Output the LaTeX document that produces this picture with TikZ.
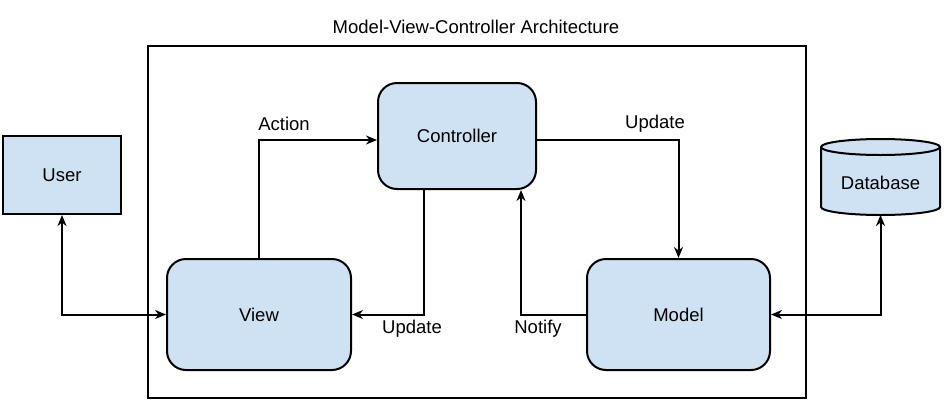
\documentclass[tikz,border=0pt]{standalone}
\usepackage{fontspec}
\setmainfont{Liberation Sans}
\usetikzlibrary{arrows.meta}
\definecolor{boxfill}{HTML}{CFE2F3}
\begin{document}
\begin{tikzpicture}[x=1pt,y=-1pt, font=\fontsize{18.5}{22}\selectfont,
  box/.style={draw, line width=2pt, fill=boxfill, inner sep=0pt},
  rbox/.style={box, rounded corners=19pt},
  tip/.tip={Stealth[length=11pt,width=9pt,inset=3.5pt]},
  conn/.style={line width=2pt, -tip},
  dconn/.style={line width=2pt, tip-tip},
  lbl/.style={inner sep=0pt}]
\useasboundingbox (0,0) rectangle (945,418);
\node[draw, line width=2pt, minimum width=658pt, minimum height=352pt, inner sep=0pt] (frame) at (477,222) {};
\node[lbl] (title) at (476,27) {Model-View-Controller Architecture};
\node[rbox, minimum width=158pt, minimum height=106pt] (ctrl) at (457,136) {Controller};
\node[rbox, minimum width=184pt, minimum height=111pt] (view) at (259,314.5) {View};
\node[rbox, minimum width=183pt, minimum height=111pt] (model) at (678.5,314.5) {Model};
\node[box, minimum width=118pt, minimum height=78pt] (user) at (62,175) {User};
% database cylinder
\path[box] (821,147) -- (821,207) arc[start angle=180, end angle=360, x radius=59.5pt, y radius=8pt] -- (940,147) arc[start angle=0, end angle=180, x radius=59.5pt, y radius=8pt] -- cycle;
\draw[line width=2pt] (821,147) arc[start angle=180, end angle=360, x radius=59.5pt, y radius=8pt];
\node[lbl] (db) at (880.5,183) {Database};
\coordinate (dbb) at (880.5,215);
% connectors
\draw[conn] (view.north) |- (ctrl.west |- 0,140);
\draw[conn] (ctrl.east |- 0,140) -| (model.north);
\draw[conn] (ctrl.south -| 424,0) |- (view.east);
\draw[conn] (model.west) -| (ctrl.south -| 521,0);
\draw[dconn] (user.south) |- (view.west);
\draw[dconn] (dbb) |- (model.east);
% labels
\node[lbl] (l1) at (284,124) {Action};
\node[lbl] (l2) at (655,124) {Update};
\node[lbl] (l3) at (412,329) {Update};
\node[lbl] (l4) at (538,329) {Notify};
\end{tikzpicture}
\end{document}
